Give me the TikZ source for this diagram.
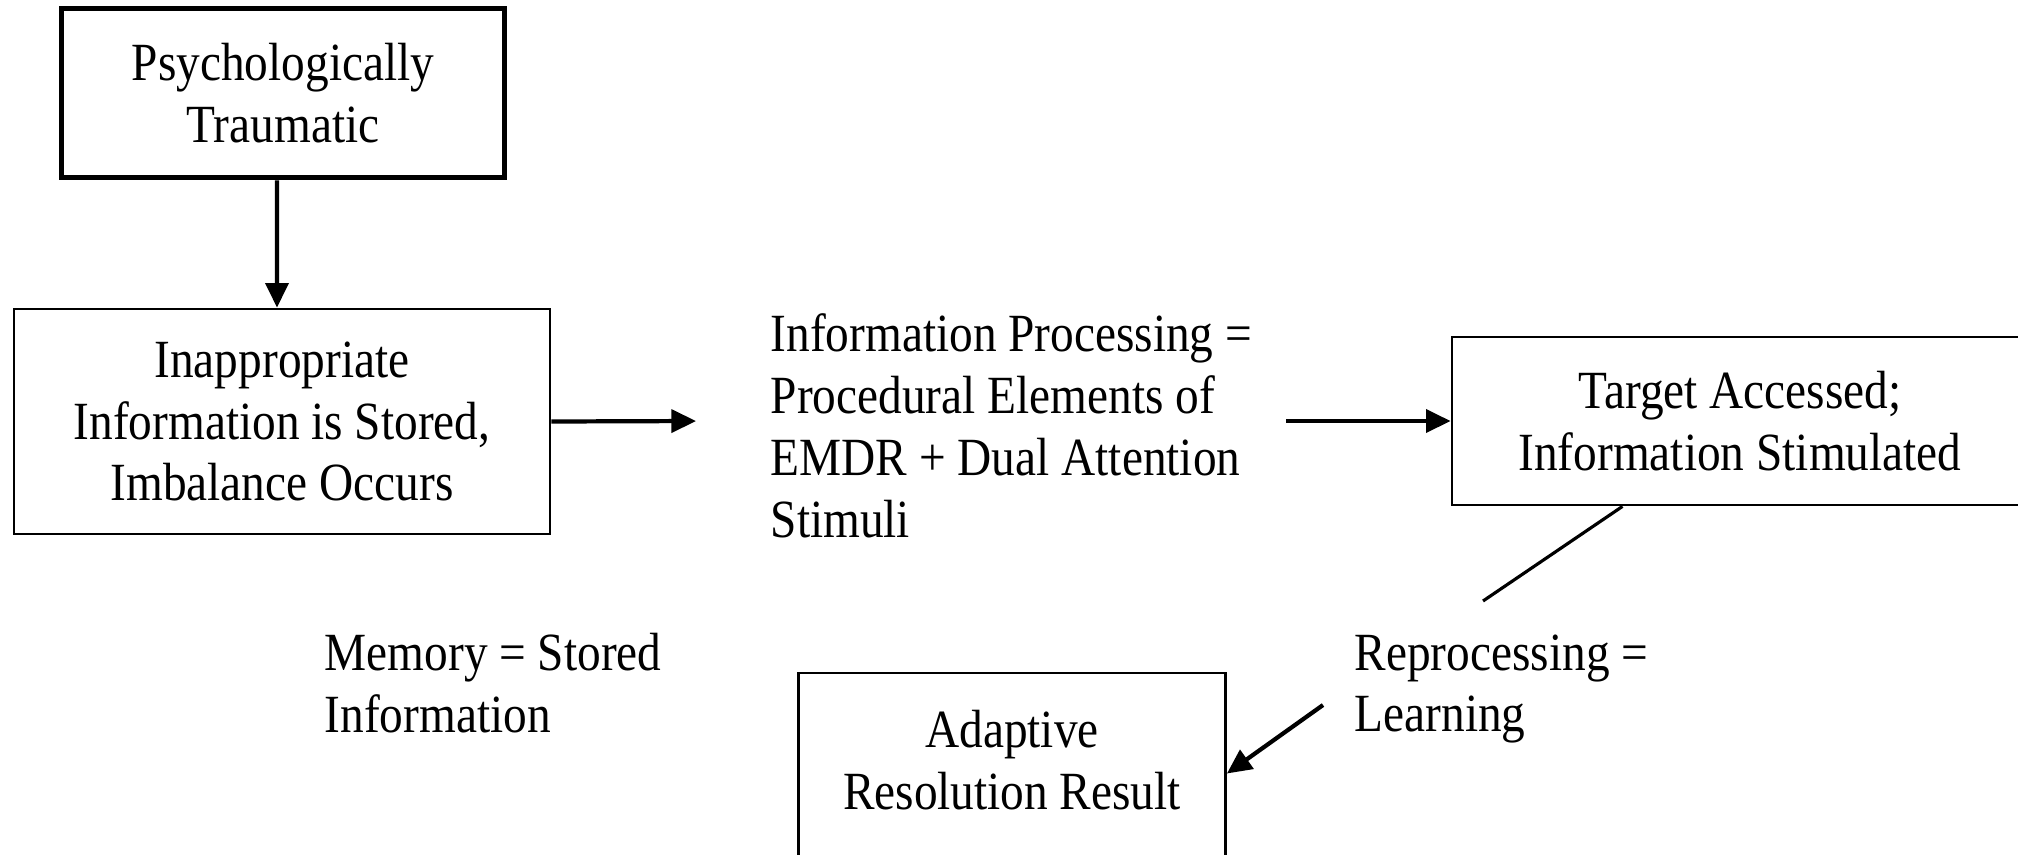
\documentclass[tikz,border=0pt]{standalone}
\usepackage{fontspec}
\setmainfont{Liberation Serif}[FakeStretch=0.88]
\usetikzlibrary{arrows.meta}

\begin{document}
\begin{tikzpicture}[
  every node/.style={font=\fontsize{15.3}{17.6}\selectfont},
  box/.style={draw, line width=0.8pt, align=center, inner sep=0pt},
  thickbox/.style={box, line width=1.6pt},
  note/.style={anchor=west, align=left, inner sep=0pt},
  link/.style={line width=1.2pt, -{Triangle[length=7pt,width=6.5pt]}},
]
  \clip (0,0) rectangle (20.18,-8.54);

  % boxes
  \node[thickbox, minimum width=4.43cm, minimum height=1.69cm] (trauma) at (2.83,-0.93)
    {Psychologically\\Traumatic};
  \node[box, minimum width=5.36cm, minimum height=2.25cm] (stored) at (2.82,-4.215)
    {Inappropriate\\Information is Stored,\\Imbalance Occurs};
  \node[box, minimum width=5.76cm, minimum height=1.68cm] (target) at (17.40,-4.21)
    {Target Accessed;\\Information Stimulated};
  \node[box, minimum width=4.27cm, minimum height=1.95cm] (result) at (10.12,-7.705)
    {Adaptive\\Resolution Result\\[-0.41cm]};

  % free texts
  \node[note] (process) at (7.70,-4.26)
    {Information Processing =\\Procedural Elements of\\EMDR + Dual Attention\\Stimuli};
  \node[note] (reproc) at (13.54,-6.89) {Reprocessing =\\Learning};
  \node[note] (memory) at (3.24,-6.83) {Memory = Stored\\Information};

  % connectors
  \coordinate (procIn) at (6.96,-4.21);
  \coordinate (procOut) at (12.86,-4.21);
  \coordinate (reprocIn) at (14.83,-6.01);
  \coordinate (reprocOut) at (13.23,-7.05);
  \draw[link] ([xshift=-0.06cm]trauma.south) -- ([xshift=-0.05cm]stored.north);
  \draw[link] (stored.east) -- (procIn);
  \draw[link] (procOut) -- (target.west);
  \draw[line width=0.9pt] (target.216) -- (reprocIn);
  \draw[link] (reprocOut) -- ([yshift=-0.3mm]result.east);
\end{tikzpicture}
\end{document}
